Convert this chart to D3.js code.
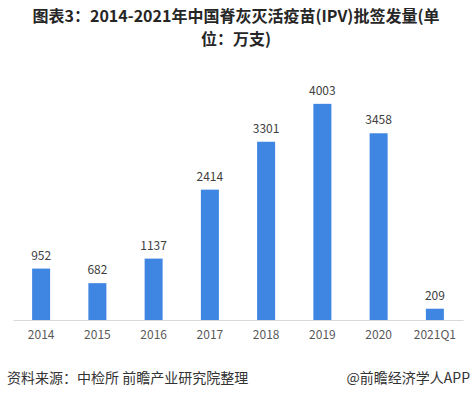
<!DOCTYPE html>
<html>
<head>
<meta charset="utf-8">
<script src="https://cdn.jsdelivr.net/npm/d3@7"></script>
<style>
  body { margin: 0; background: #fff; }
  text { font-family: "Noto Sans CJK SC", "Noto Sans", sans-serif; }
</style>
</head>
<body>
<div id="chart"></div>
<script>
const categories = ["2014", "2015", "2016", "2017", "2018", "2019", "2020", "2021Q1"];
const values = [952, 682, 1137, 2414, 3301, 4003, 3458, 209];
const titleLines = ["图表3：2014-2021年中国脊灰灭活疫苗(IPV)批签发量(单", "位：万支)"];
const sourceText = "资料来源：中检所 前瞻产业研究院整理";
const brandText = "@前瞻经济学人APP";

const width = 472, height = 399;
const svg = d3.select("#chart").append("svg")
    .attr("width", width)
    .attr("height", height);

// title, one text per line
svg.selectAll("text.title")
    .data(titleLines)
    .join("text")
    .attr("class", "title")
    .attr("x", 236)
    .attr("y", (d, i) => 22 + i * 23)
    .attr("text-anchor", "middle")
    .style("font-size", "16px")
    .style("font-weight", "bold")
    .attr("fill", "#262626")
    .text(d => d);

const x = d3.scaleBand()
    .domain(categories)
    .range([13, 463])
    .paddingInner(0.68)
    .paddingOuter(0.34);

const y = d3.scaleLinear()
    .domain([0, 5000])
    .range([320, 50]);

svg.selectAll("rect.bar")
    .data(values)
    .join("rect")
    .attr("class", "bar")
    .attr("x", (d, i) => x(categories[i]))
    .attr("y", d => y(d))
    .attr("width", x.bandwidth())
    .attr("height", d => y(0) - y(d))
    .attr("fill", "#3f86e2");

svg.selectAll("text.val")
    .data(values)
    .join("text")
    .attr("class", "val")
    .attr("x", (d, i) => x(categories[i]) + x.bandwidth() / 2)
    .attr("y", d => y(d) - 9)
    .attr("text-anchor", "middle")
    .style("font-size", "12px")
    .attr("fill", "#404040")
    .text(d => d);

const xAxis = svg.append("g")
    .attr("transform", `translate(0,${y(0)})`)
    .call(d3.axisBottom(x).tickSize(0).tickPadding(10));
xAxis.select(".domain").attr("stroke", "#d9d9d9");
xAxis.selectAll("text")
    .style("font-size", "12px")
    .style("font-family", "'Noto Sans CJK SC', 'Noto Sans', sans-serif")
    .attr("fill", "#595959");

// footer
svg.append("text")
    .attr("x", 7)
    .attr("y", 383)
    .style("font-size", "14px")
    .attr("fill", "#333")
    .text(sourceText);

svg.append("text")
    .attr("x", 470)
    .attr("y", 383)
    .attr("text-anchor", "end")
    .style("font-size", "14px")
    .attr("fill", "#333")
    .text(brandText);
</script>
</body>
</html>
